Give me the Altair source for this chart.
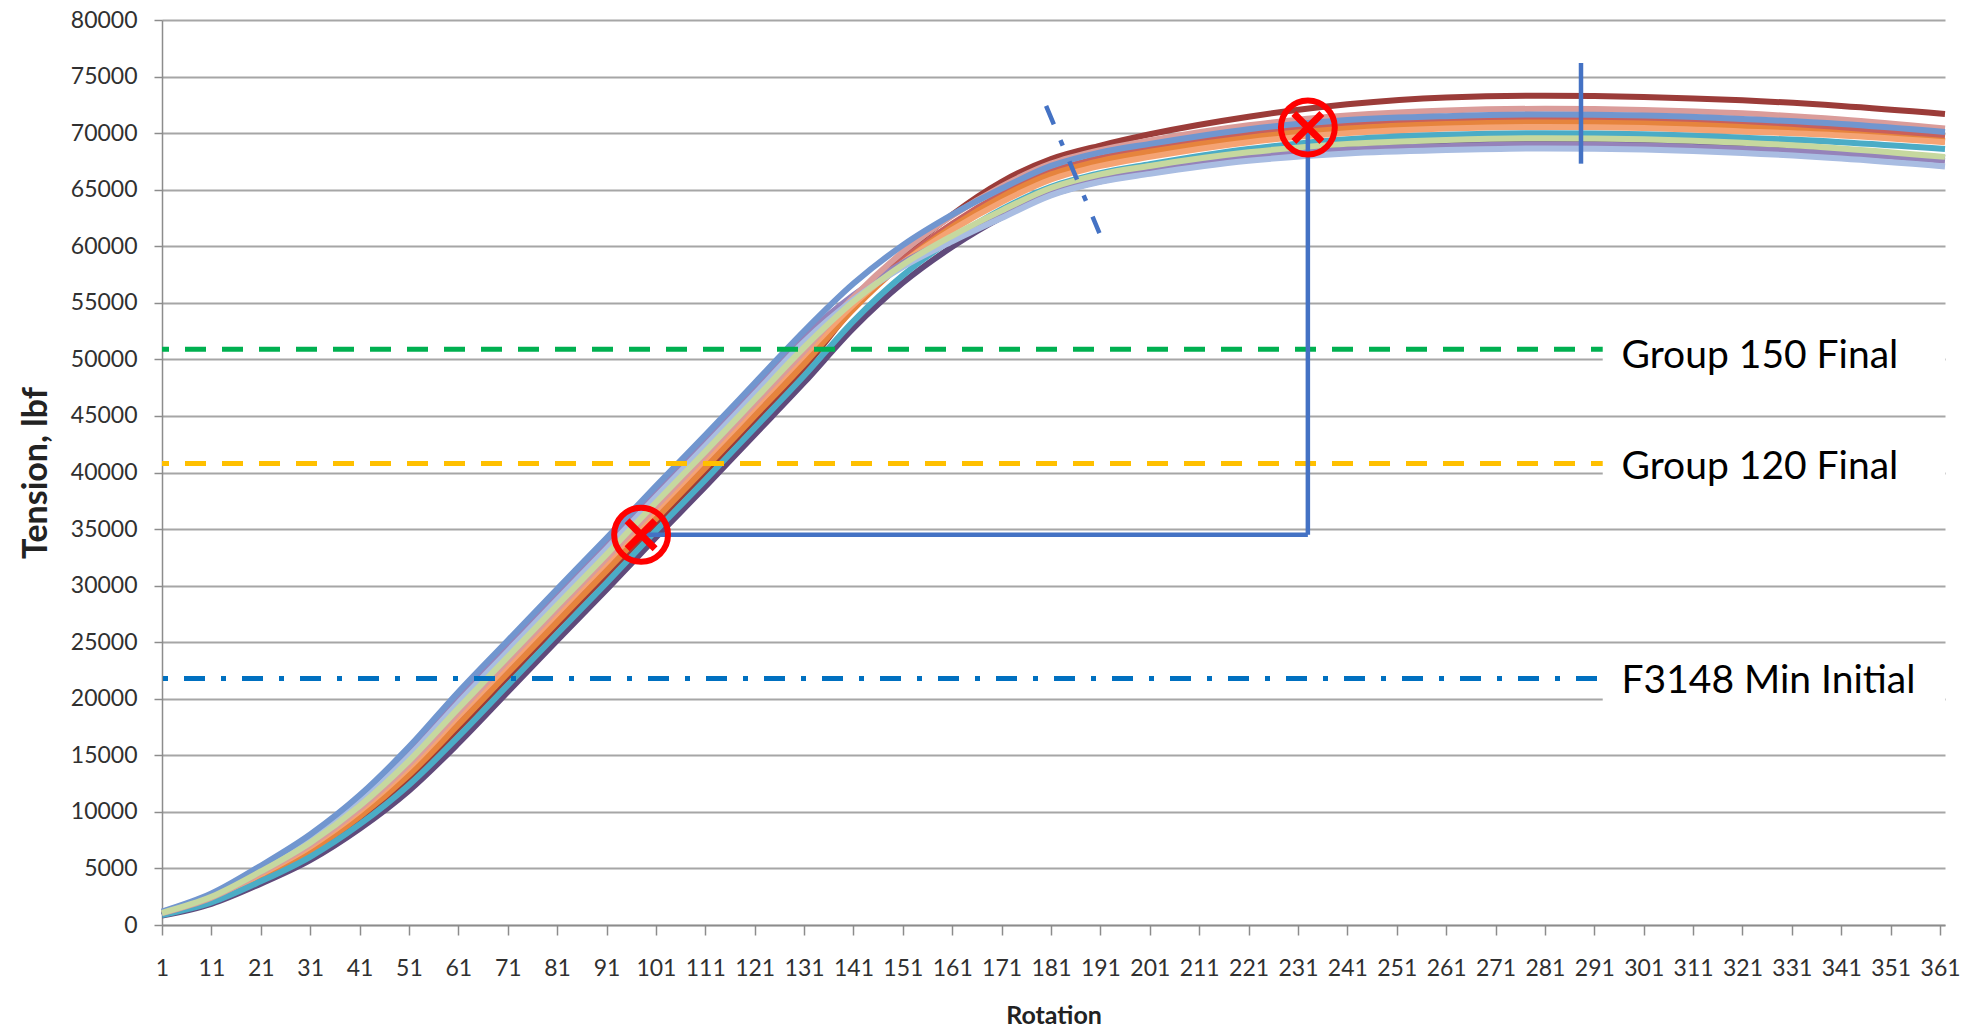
import altair as alt
import pandas as pd

# Rotation positions at which each tension trace was sampled
rotation = [1, 11, 21, 31, 41, 51, 61, 71, 81, 91, 101, 111, 121, 131, 141,
            151, 161, 171, 181, 191, 201, 221, 241, 261, 281, 301, 321, 341, 362]

# Tension traces (lbf), one list per test run
run_dark_purple = [830, 1870, 3650, 5730, 8500, 11870, 16050, 20600, 25150, 29650, 34250, 38750, 43350, 47950, 52760,
                   56770, 59950, 62550, 64550, 65750, 66560, 67900, 68750, 69150, 69300, 69200, 68900, 68450, 67800]
run_aqua = [880, 1990, 3860, 6030, 8890, 12380, 16650, 21200, 25750, 30250, 34850, 39350, 43950, 48550, 53390,
            57430, 60630, 63250, 65250, 66450, 67250, 68600, 69450, 69850, 70000, 69900, 69600, 69200, 68600]
run_purple = [1150, 2680, 5070, 7750, 11140, 15320, 20100, 24650, 29200, 33700, 38300, 42800, 47400, 52000, 55670,
              58540, 60770, 62800, 64800, 66000, 66700, 67850, 68550, 68850, 69000, 68900, 68600, 68200, 67550]
run_light_blue = [1120, 2590, 4910, 7530, 10840, 14930, 19650, 24200, 28750, 33250, 37850, 42350, 46950, 51550, 55270,
                  58180, 60440, 62500, 64500, 65700, 66400, 67550, 68200, 68500, 68650, 68550, 68250, 67750, 67050]
run_dark_orange = [960, 2200, 4230, 6550, 9580, 13280, 17700, 22250, 26800, 31300, 35900, 40400, 45000, 49600, 54450,
                   58510, 61720, 64350, 66350, 67550, 68350, 69600, 70400, 70800, 70950, 70850, 70550, 70000, 69300]
run_orange = [1020, 2350, 4490, 6930, 10060, 13910, 18450, 23000, 27550, 32050, 36650, 41150, 45750, 50350, 54850,
              58540, 61450, 63900, 65900, 67100, 67900, 69200, 70000, 70400, 70550, 70450, 70150, 69800, 69200]
run_red = [1000, 2300, 4350, 6750, 9850, 13600, 18100, 22650, 27200, 31700, 36300, 40800, 45400, 50000, 54800,
           58800, 62000, 64600, 66600, 67800, 68600, 69900, 70750, 71150, 71300, 71200, 70900, 70400, 69700]
run_blue = [1190, 2780, 5240, 8000, 11460, 15740, 20600, 25150, 29700, 34200, 38800, 43300, 47900, 52500, 56700,
            60100, 62800, 65100, 67100, 68300, 69050, 70350, 71150, 71500, 71650, 71550, 71250, 70800, 70100]
run_pink = [1050, 2420, 4610, 7100, 10290, 14210, 18800, 23350, 27900, 32400, 37000, 41500, 46100, 50700, 55500,
            59500, 62700, 65300, 67300, 68500, 69350, 70700, 71550, 72000, 72150, 72050, 71750, 71200, 70400]
run_light_green = [1080, 2490, 4730, 7280, 10520, 14510, 19150, 23700, 28250, 32750, 37350, 41850, 46450, 51050, 55110,
                   58370, 60920, 63150, 65150, 66350, 67100, 68300, 69050, 69400, 69550, 69450, 69150, 68650, 67900]
run_dark_red = [930, 2130, 4100, 6380, 9350, 12980, 17350, 21900, 26450, 30950, 35550, 40050, 44650, 49250, 54600,
                59200, 62800, 65700, 67700, 68900, 69900, 71450, 72550, 73150, 73300, 73200, 72900, 72400, 71700]

# Drawing order: first entry is painted underneath the rest
run_names = ["Run 01", "Run 02", "Run 03", "Run 04", "Run 05", "Run 06",
             "Run 07", "Run 08", "Run 09", "Run 10", "Run 11"]
run_values = [run_dark_red, run_red, run_dark_orange, run_orange, run_dark_purple, run_aqua,
              run_purple, run_pink, run_light_blue, run_blue, run_light_green]
run_colors = ["#9B3C39", "#C9605C", "#E6843D", "#F5A373", "#604A7B", "#4BACC6",
              "#9583BA", "#DA9C9A", "#A9BDE2", "#7196CF", "#C6D89F"]

# Specification limits drawn as horizontal reference lines
limit_labels = ["Group 150 Final", "Group 120 Final", "F3148 Min Initial"]
limit_values = [50900, 40800, 21800]
limit_colors = ["#00B050", "#FFC000", "#0070C0"]
limit_dashes = [[21, 16], [21, 16], [21, 16, 5, 16]]

# Label positions and the blank panels behind them
label_rotation = [296.5, 296.5, 296.5]
label_tension = [50300, 40500, 21600]
panel_rot_start = [292.7, 292.7, 292.7]
panel_rot_end = [362, 362, 362]
panel_low = [47000, 37200, 16400]
panel_high = [53500, 44200, 24300]

# Highlighted points and the connecting guide lines
mark_rotation = [98, 233]
mark_tension = [34500, 70500]
guide_rot_start = [98, 233, 288.3]
guide_rot_end = [233, 233, 288.3]
guide_ten_start = [34500, 34500, 67300]
guide_ten_end = [34500, 70500, 76200]
slash_rot = [180.0, 190.8]
slash_ten = [72400, 61170]

x_ticks = list(range(1, 362, 10))
y_ticks = list(range(0, 80001, 5000))

FONT = "Lato"
x_scale = alt.Scale(domain=[1, 362], nice=False, zero=False)
y_scale = alt.Scale(domain=[0, 80000], nice=False, zero=True)

x_axis = alt.Axis(values=x_ticks, title="Rotation", grid=False, labelFlush=False, labelOverlap=False,
                  domainColor="#8C8C8C", domainWidth=1.5, tickColor="#8C8C8C", tickWidth=1.5, tickSize=10,
                  labelFont=FONT, labelFontSize=23, labelColor="#303030", labelPadding=22,
                  titleFont=FONT, titleFontSize=25, titleFontWeight="bold", titleColor="#222222",
                  titlePadding=23)
y_axis = alt.Axis(values=y_ticks, format="d", title="Tension, lbf", grid=True, gridColor="#A6A6A6",
                  gridWidth=2, domainColor="#8C8C8C", domainWidth=1.5, tickColor="#8C8C8C",
                  tickWidth=1.5, tickSize=8, labelFont=FONT, labelFontSize=23, labelColor="#303030",
                  labelPadding=17, labelFlush=False, titleFont=FONT, titleFontSize=34,
                  titleFontWeight="bold", titleColor="#222222", titlePadding=17)


def xq(field):
    return alt.X(field, type="quantitative", scale=x_scale, axis=x_axis, title="Rotation")


def yq(field):
    return alt.Y(field, type="quantitative", scale=y_scale, axis=y_axis, title="Tension, lbf")


rows = []
for name, vals in zip(run_names, run_values):
    for r, v in zip(rotation, vals):
        rows.append({"run": name, "rotation": r, "tension": v})
traces = pd.DataFrame(rows)

layers = []
for name, color in zip(run_names, run_colors):
    layers.append(
        alt.Chart(traces).transform_filter(alt.datum.run == name)
        .mark_line(color=color, strokeWidth=6, interpolate="monotone", strokeJoin="round")
        .encode(x=xq("rotation"), y=yq("tension"))
    )

limits = pd.DataFrame({"label": limit_labels, "value": limit_values})
for label, color, dash in zip(limit_labels, limit_colors, limit_dashes):
    layers.append(
        alt.Chart(limits).transform_filter(alt.datum.label == label)
        .mark_rule(color=color, strokeWidth=5, strokeDash=dash)
        .encode(y=yq("value"))
    )

panels = pd.DataFrame({"x0": panel_rot_start, "x1": panel_rot_end, "y0": panel_low, "y1": panel_high})
layers.append(
    alt.Chart(panels).mark_rect(fill="white", stroke=None)
    .encode(x=xq("x0"), x2="x1", y=yq("y0"), y2="y1")
)

labels = pd.DataFrame({"x": label_rotation, "y": label_tension, "text": limit_labels})
layers.append(
    alt.Chart(labels).mark_text(align="left", baseline="middle", font=FONT, fontSize=39, color="#000000")
    .encode(x=xq("x"), y=yq("y"), text="text:N")
)

guides = pd.DataFrame({"x0": guide_rot_start, "x1": guide_rot_end, "y0": guide_ten_start, "y1": guide_ten_end})
layers.append(
    alt.Chart(guides).mark_rule(color="#4472C4", strokeWidth=4.5)
    .encode(x=xq("x0"), x2="x1", y=yq("y0"), y2="y1")
)

slash = pd.DataFrame({"x0": [slash_rot[0]], "x1": [slash_rot[1]], "y0": [slash_ten[0]], "y1": [slash_ten[1]]})
layers.append(
    alt.Chart(slash).mark_rule(color="#4472C4", strokeWidth=4.5, strokeDash=[20, 17, 6, 17])
    .encode(x=xq("x0"), x2="x1", y=yq("y0"), y2="y1")
)

marks = pd.DataFrame({"x": mark_rotation, "y": mark_tension})
layers.append(
    alt.Chart(marks).mark_point(shape="circle", filled=False, stroke="#FF0000", strokeWidth=6,
                                size=2900, opacity=1)
    .encode(x=xq("x"), y=yq("y"))
)
layers.append(
    alt.Chart(marks).mark_point(shape="M-1,-1L1,1M-1,1L1,-1", filled=False, stroke="#FF0000",
                                strokeWidth=7, size=784, opacity=1)
    .encode(x=xq("x"), y=yq("y"))
)

chart = (
    alt.layer(*layers)
    .properties(width=1783, height=905,
                padding={"left": 162, "top": 20, "right": 32, "bottom": 104},
                autosize=alt.AutoSizeParams(type="none"), background="white")
    .configure_view(stroke=None)
)

chart.save("out.html", embed_options={"renderer": "svg", "actions": False})
